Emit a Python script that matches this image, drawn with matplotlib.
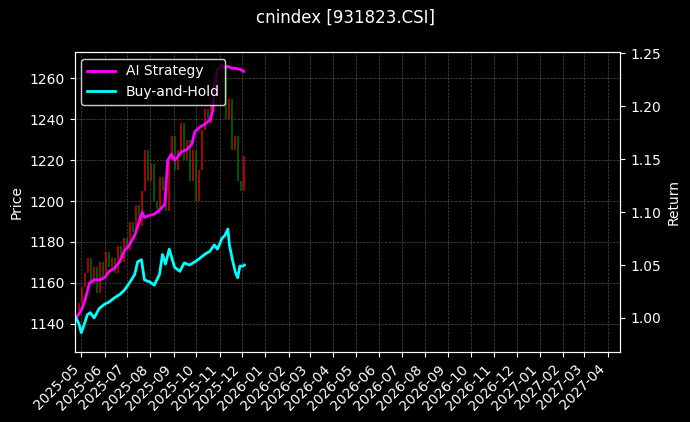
import matplotlib
matplotlib.use("Agg")
import matplotlib.pyplot as plt
import matplotlib.dates as mdates
import numpy as np
import pandas as pd

base = pd.Timestamp("2025-05-01")
candle_days = list(range(-3, 218, 4))
closes = [1150,1158,1165,1172,1160,1168,1155,1170,1163,1175,
          1168,1172,1165,1178,1170,1182,1176,1190,1185,1198,
          1188,1205,1225,1210,1218,1200,1196,1212,1205,1195,
          1220,1232,1215,1225,1238,1220,1230,1210,1225,1200,
          1215,1235,1245,1238,1250,1262,1248,1258,1265,1240,
          1250,1225,1232,1210,1205,1222]

ai_days = [-7,0,5,11,17,24,31,37,44,51,57,64,71,77,81,84,91,97,104,111,
           115,120,124,128,133,140,147,151,157,164,171,175,177,181,187,191,195,200,205,211,216]
ai_ret = [1.000,1.007,1.017,1.033,1.036,1.036,1.038,1.044,1.047,1.053,
          1.063,1.069,1.078,1.091,1.100,1.095,1.097,1.098,1.102,1.107,
          1.149,1.155,1.149,1.152,1.157,1.159,1.164,1.176,1.180,1.183,
          1.187,1.196,1.216,1.235,1.239,1.236,1.238,1.236,1.236,1.235,1.233]

bh_days = [-7,-3,0,4,8,12,17,24,31,37,44,51,57,64,71,75,80,84,91,97,104,108,
           112,117,124,131,137,144,151,157,164,171,177,181,187,191,195,197,201,205,208,211,215,217]
bh_ret = [1.000,0.994,0.986,0.994,1.003,1.005,1.000,1.009,1.013,1.015,1.019,1.022,
          1.026,1.033,1.041,1.053,1.055,1.036,1.034,1.031,1.041,1.060,1.051,1.065,
          1.048,1.044,1.052,1.050,1.053,1.056,1.060,1.063,1.069,1.065,1.075,1.078,
          1.084,1.069,1.055,1.043,1.038,1.049,1.049,1.050]

cd = [base + pd.Timedelta(days=d) for d in candle_days]
opens = [closes[0] - 4] + closes[:-1]
colors = ["red" if c >= o else "green" for o, c in zip(opens, closes)]

fig, ax = plt.subplots(figsize=(6.9, 4.22), dpi=100)
fig.patch.set_facecolor("black")
ax.set_facecolor("black")
ax.vlines(cd, [min(o, c) for o, c in zip(opens, closes)],
          [max(o, c) for o, c in zip(opens, closes)], colors=colors, linewidth=1.2, alpha=0.8)
ax.set_ylabel("Price", color="white")
ax.set_ylim(1126, 1273)
ax.grid(True, color="gray", linestyle="--", linewidth=0.5, alpha=0.6)

ax2 = ax.twinx()
ax2.plot([base + pd.Timedelta(days=d) for d in ai_days], ai_ret, color="magenta", lw=2, label="AI Strategy")
ax2.plot([base + pd.Timedelta(days=d) for d in bh_days], bh_ret, color="cyan", lw=2, label="Buy-and-Hold")
ax2.set_ylabel("Return", color="white")
ax2.set_ylim(0.9674, 1.2515)
ax2.set_yticks([1.00, 1.05, 1.10, 1.15, 1.20, 1.25])

ax.set_xlim(pd.Timestamp("2025-04-22"), pd.Timestamp("2027-04-18"))
ax.xaxis.set_major_locator(mdates.MonthLocator())
ax.xaxis.set_major_formatter(mdates.DateFormatter("%Y-%m"))
plt.setp(ax.get_xticklabels(), rotation=45, ha="right")

for a in (ax, ax2):
    a.tick_params(colors="white")
    for s in a.spines.values():
        s.set_color("white")

leg = ax2.legend(loc="upper left", facecolor="black", edgecolor="white")
for t in leg.get_texts():
    t.set_color("white")

fig.suptitle("cnindex [931823.CSI]", color="white")
fig.subplots_adjust(left=0.108, right=0.899, top=0.877, bottom=0.165)
fig.savefig("out.png", facecolor="black")
